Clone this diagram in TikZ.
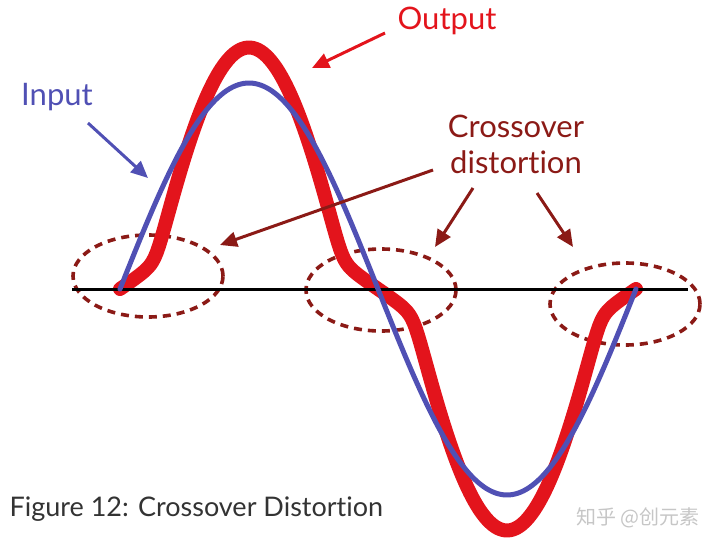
\documentclass[tikz,border=0pt]{standalone}
\usepackage{fontspec}
\setmainfont{Lato}[Ligatures=NoCommon]
\newfontfamily\cjk{Noto Sans CJK SC}
\usetikzlibrary{arrows.meta,shapes.geometric}
\definecolor{outred}{HTML}{E3141C}
\definecolor{inblue}{HTML}{5050B4}
\definecolor{dkred}{HTML}{8B1A16}
\definecolor{capgray}{HTML}{333333}

\begin{document}
\begin{tikzpicture}[x=1pt,y=-1pt,
    declare function={sp(\u)=((\u-0.42)+sqrt((\u-0.42)^2+0.006))/2;
      outv(\t)=0.25*sin(\t)+1.586*(sp(sin(\t))-sp(-sin(\t)));}]
        \tikzset{zone/.style = {shape=ellipse,draw=dkred,line width=3.6pt,
            dash pattern=on 8pt off 6pt,minimum width=150pt,minimum height=82pt,inner sep=0pt}}
        \tikzset{label/.style = {font=\fontsize{31}{36}\selectfont}}
        \tikzset{pointer/.style = {line width=3pt,-{Triangle[length=17pt,width=15pt]}}}
        \useasboundingbox (0,0) rectangle (720,549);
        % zones
        \node[zone] (zoneL) at (148,276) {};
        \node[zone] (zoneM) at (381,290) {};
        \node[zone] (zoneR) at (625,304) {};
        % axis
        \coordinate (axL) at (72,289);
        \coordinate (axR) at (688,289);
        % output signal
        \draw[outred,line width=14pt,line cap=round,line join=round]
            plot[domain=0:360,samples=240] ({120+\x*1.43333},{289-206*outv(\x)});
        \draw[line width=3pt] (axL) -- (axR);
        % input signal
        \draw[inblue,line width=5pt,line cap=round,line join=round]
            plot[domain=0:360,samples=180] ({120+\x*1.43333},{289-206*sin(\x)});
        % labels
        \node[label,text=outred] (out) at (447,21) {Output};
        \node[label,text=inblue] (inp) at (57,97) {Input};
        \node[label,text=dkred,align=center] (cross) at (516,144) {Crossover\\distortion};
        \node[anchor=west,text=capgray,font=\fontsize{27}{30}\selectfont] (cap) at (6,509) {Figure 12: Crossover Distortion};
        \node[text=gray!45,font=\cjk\fontsize{20}{22}\selectfont] (mark) at (638,518) {知乎 @创元素};
        % arrows
        \coordinate (outA) at (385,33);  \coordinate (outB) at (312,68);
        \coordinate (inpA) at (88,123);  \coordinate (inpB) at (148,178);
        \coordinate (crA) at (433,170);  \coordinate (crB) at (220,245);
        \coordinate (crC) at (473,188);  \coordinate (crD) at (435,247);
        \coordinate (crE) at (537,193);  \coordinate (crF) at (573,247);
        \draw[pointer,outred] (outA) -- (outB);
        \draw[pointer,inblue] (inpA) -- (inpB);
        \draw[pointer,dkred] (crA) -- (crB);
        \draw[pointer,dkred] (crC) -- (crD);
        \draw[pointer,dkred] (crE) -- (crF);
\end{tikzpicture}
\end{document}
